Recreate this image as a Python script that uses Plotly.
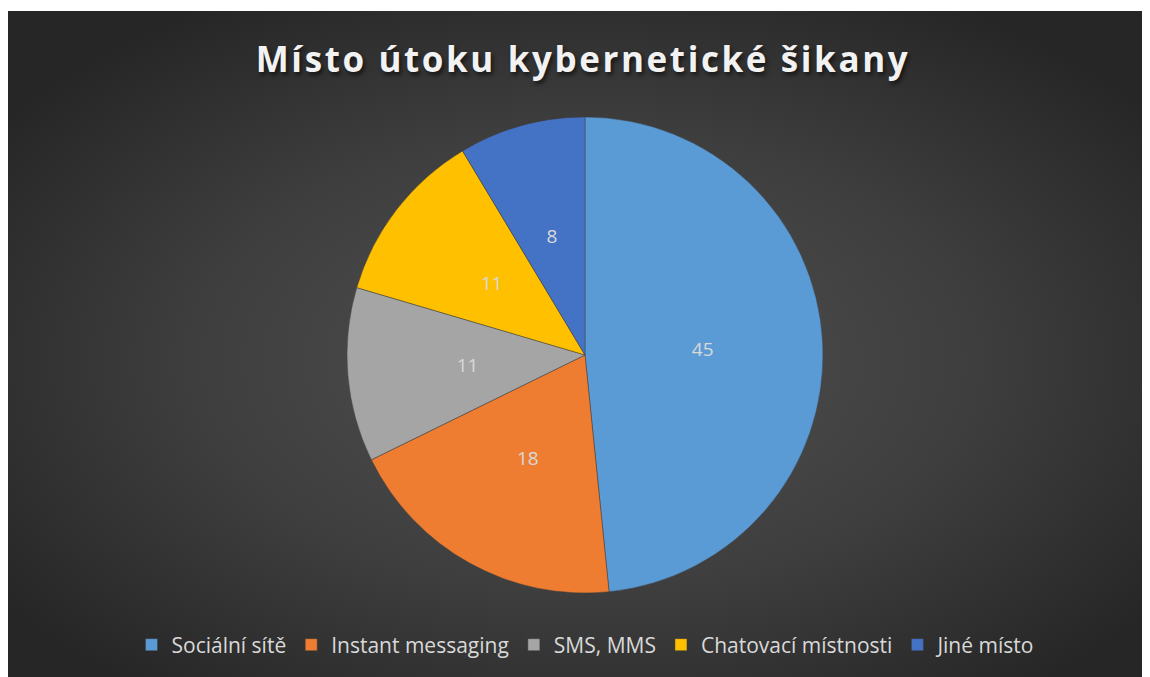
import base64
import plotly.graph_objects as go

# Data
categories = ["Sociální sítě", "Instant messaging", "SMS, MMS", "Chatovací místnosti", "Jiné místo"]
values = [45, 18, 11, 11, 8]
colors = ["#5b9bd5", "#ee7d31", "#a5a5a5", "#ffc000", "#4472c4"]
title_text = "Místo útoku kybernetické šikany"

W, H = 1150, 677
OFF = 8  # page body margin

cx, cy, r = 585 - OFF, 355 - OFF, 238

svg = (
    '<svg xmlns="http://www.w3.org/2000/svg" width="1142" height="666" preserveAspectRatio="none">'
    '<defs><radialGradient id="g" cx="0.5" cy="0.52" r="0.62">'
    '<stop offset="0" stop-color="#515151"/>'
    '<stop offset="0.55" stop-color="#3e3e3e"/>'
    '<stop offset="1" stop-color="#262626"/>'
    '</radialGradient></defs>'
    '<rect width="1142" height="666" fill="url(#g)"/></svg>'
)
bg_src = "data:image/svg+xml;base64," + base64.b64encode(svg.encode()).decode()


def dom(rad):
    return dict(x=[(cx - rad) / W, (cx + rad) / W], y=[1 - (cy + rad) / H, 1 - (cy - rad) / H])


fig = go.Figure()
fig.add_trace(
    go.Pie(
        labels=categories,
        values=values,
        sort=False,
        direction="clockwise",
        rotation=0,
        marker=dict(colors=colors, line=dict(color="rgba(60,60,60,0.6)", width=0.8)),
        textinfo="none",
        hoverinfo="label+value+percent",
        domain=dom(r),
    )
)
# transparent ring used only to place the value labels at mid-radius
fig.add_trace(
    go.Pie(
        labels=categories,
        values=values,
        sort=False,
        direction="clockwise",
        rotation=0,
        hole=0.5,
        marker=dict(colors=["rgba(0,0,0,0)"] * len(values), line=dict(width=0)),
        textinfo="value",
        textposition="inside",
        insidetextorientation="horizontal",
        textfont=dict(family="Open Sans", size=19, color="#d9d9d9"),
        hoverinfo="skip",
        showlegend=False,
        domain=dom(r * 0.66),
    )
)

fig.update_layout(
    width=W,
    height=H,
    margin=dict(l=0, r=0, t=0, b=0),
    paper_bgcolor="white",
    plot_bgcolor="white",
    images=[
        dict(
            source=bg_src,
            xref="paper",
            yref="paper",
            x=0,
            y=1 - 3 / H,
            sizex=1,
            sizey=(H - 3) / H,
            sizing="stretch",
            xanchor="left",
            yanchor="top",
            layer="below",
        )
    ],
    title=dict(
        text='<span style="letter-spacing:2.6px">' + title_text + "</span>",
        x=(583 - OFF) / W,
        xanchor="center",
        y=1 - (60 - OFF) / H,
        yanchor="middle",
        font=dict(
            family="Open Sans",
            size=35,
            color="#f2f2f2",
            weight="bold",
            shadow="2px 3px 4px rgba(0,0,0,0.6)",
        ),
    ),
    legend=dict(
        orientation="h",
        x=(586 - OFF) / W,
        xanchor="center",
        y=1 - (645 - OFF) / H,
        yanchor="middle",
        font=dict(family="Open Sans", size=21, color="#d9d9d9"),
        bgcolor="rgba(0,0,0,0)",
        itemclick=False,
    ),
    showlegend=True,
)

fig.write_html("out.html")
